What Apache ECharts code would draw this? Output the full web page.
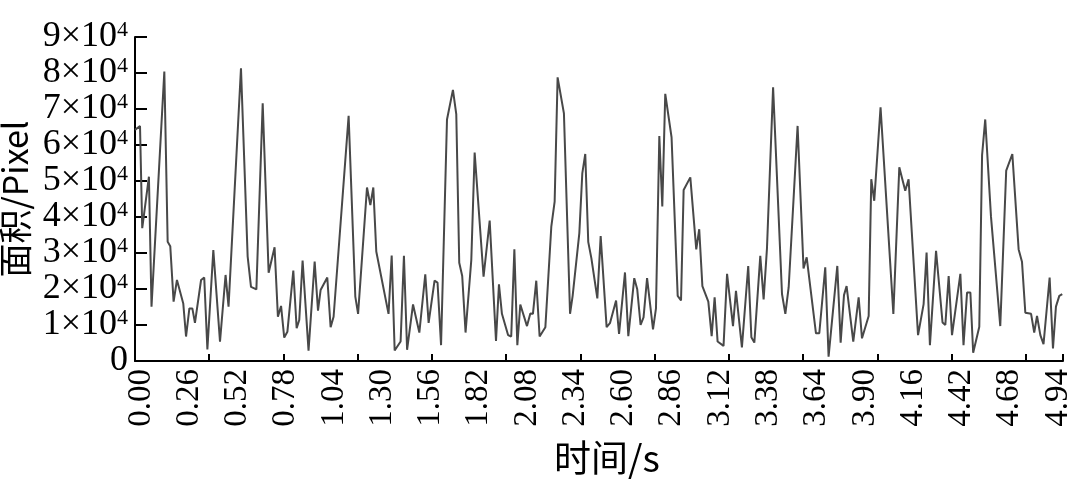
<!DOCTYPE html>
<html><head><meta charset="utf-8">
<script src="https://cdn.jsdelivr.net/npm/echarts@6/dist/echarts.min.js"></script>
<style>html,body{margin:0;padding:0;background:#fff}#c{width:1080px;height:479px}</style>
</head><body><div id="c"></div>
<script>
// time (s) of each vertex of the traced curve
const times = [
0.000,0.027,0.039,0.075,0.089,0.158,0.176,0.190,0.208,0.226,0.260,0.275,0.293,0.309,0.323,0.356,0.373,0.390,0.422,0.458,0.488,0.504,0.571,0.607,0.625,0.654,0.688,
0.720,0.752,0.770,0.787,0.804,0.821,0.853,0.871,0.885,0.903,0.935,0.968,0.986,1.000,1.036,1.054,1.070,1.151,1.187,1.202,1.250,1.268,1.284,1.300,1.366,1.383,1.399,1.431,1.449,
1.466,1.498,1.532,1.564,1.582,1.614,1.630,1.649,1.681,1.713,1.731,1.747,1.763,1.781,1.812,1.830,1.878,1.911,1.945,1.961,1.977,2.010,2.027,2.044,2.060,2.076,2.112,2.130,2.144,2.162,2.180,
2.211,2.243,2.261,2.277,2.311,2.344,2.358,2.394,2.410,2.426,2.442,2.459,2.491,2.509,2.541,2.559,2.592,2.608,2.640,2.658,2.690,2.706,2.724,2.740,2.759,2.791,2.807,2.825,2.841,2.857,2.891,
2.924,2.942,2.956,2.992,3.024,3.040,3.057,3.089,3.107,3.123,3.139,3.171,3.190,3.222,3.238,3.270,3.304,3.321,3.337,3.369,3.387,3.405,3.438,3.486,3.504,3.522,3.570,3.602,3.619,
3.669,3.687,3.719,3.737,3.784,3.802,3.820,3.834,3.870,3.899,3.917,3.953,3.967,3.983,4.017,4.086,4.118,4.150,4.168,4.219,4.249,4.265,4.283,4.316,4.351,4.366,
4.384,4.402,4.447,4.464,4.483,4.501,4.516,4.549,4.564,4.581,4.612,4.662,4.694,4.727,4.761,4.779,4.797,4.828,4.845,4.860,4.878,4.895,4.928,4.946,4.962,4.980,4.996];
// area in units of 10^4 pixel
const areas = [
6.42,6.53,3.69,5.12,1.51,8.04,3.31,3.19,1.65,2.25,1.60,0.68,1.46,1.46,1.06,2.25,2.32,0.32,3.08,0.54,2.39,1.51,8.13,2.90,2.06,1.99,7.16,
2.45,3.16,1.23,1.53,0.65,0.81,2.51,0.91,1.14,2.79,0.29,2.76,1.40,1.97,2.32,0.94,1.23,6.81,1.79,1.31,4.82,4.33,4.82,3.04,1.31,2.93,0.29,0.54,2.92,
0.31,1.57,0.79,2.41,1.06,2.23,2.18,0.44,6.71,7.53,6.86,2.73,2.36,0.79,2.81,5.79,2.34,3.90,0.56,2.13,1.31,0.72,0.68,3.10,0.44,1.57,0.97,1.32,1.31,2.23,0.68,
0.94,3.73,4.43,7.88,6.88,1.31,1.81,3.55,5.21,5.75,3.31,2.85,1.74,3.47,0.94,1.05,1.68,0.75,2.46,0.69,2.30,1.99,1.00,1.21,2.30,0.88,1.46,6.25,4.29,7.42,6.21,
1.81,1.68,4.75,5.10,3.10,3.66,2.08,1.65,0.69,1.77,0.54,0.42,2.42,0.97,1.95,0.38,2.64,0.66,0.51,2.92,1.71,3.13,7.60,1.86,1.31,2.05,6.53,2.57,2.88,
0.77,0.77,2.60,0.12,2.64,0.51,1.83,2.08,0.54,1.77,0.63,1.25,5.05,4.45,7.05,1.31,5.38,4.73,5.05,0.72,1.58,3.01,0.44,3.06,1.07,1.00,
2.36,0.72,2.42,0.44,1.90,1.90,0.23,0.95,5.72,6.71,4.01,0.97,5.29,5.75,3.10,2.76,1.34,1.31,0.79,1.25,0.72,0.47,2.32,0.35,1.51,1.81,1.86];

const xMin = 0, xMax = 5.0;
const labelStep = 0.26;   // spacing of x tick labels
const tickStep = 0.4;     // spacing of x tick marks
const yMax = 9, yStep = 1; // y axis in units of 10^4

const serif = '"Liberation Serif","Times New Roman",serif';
const cjk = '"Noto Sans CJK SC","Liberation Serif",serif';

const chart = echarts.init(document.getElementById('c'), null, {renderer: 'canvas'});
chart.setOption({
  animation: false,
  backgroundColor: '#fff',
  grid: {left: 135, right: 17, top: 37, bottom: 118, containLabel: false, outerBoundsMode: 'none'},
  xAxis: [{
    type: 'value', min: xMin, max: xMax, interval: tickStep,
    axisLine: {show: true, lineStyle: {color: '#000', width: 2}},
    axisTick: {show: true, inside: true, length: 7, lineStyle: {color: '#000', width: 2}},
    axisLabel: {show: false},
    splitLine: {show: false}
  }, {
    type: 'value', min: xMin, max: xMax, interval: labelStep, position: 'bottom',
    axisLine: {show: false}, axisTick: {show: false}, splitLine: {show: false},
    axisLabel: {show: true, rotate: 90, margin: 8, showMaxLabel: false, showMinLabel: true,
      fontFamily: serif, fontSize: 33, color: '#000', verticalAlign: 'top', lineHeight: 12,
      formatter: v => v.toFixed(2)},
    name: '时间/s', nameLocation: 'middle', nameGap: 78,
    nameTextStyle: {fontFamily: cjk, fontSize: 37, color: '#000', padding: [0, 0, 0, 16]}
  }],
  yAxis: {
    type: 'value', min: 0, max: yMax, interval: yStep,
    axisLine: {show: true, lineStyle: {color: '#000', width: 2}},
    axisTick: {show: true, inside: true, length: 12, lineStyle: {color: '#000', width: 2}},
    splitLine: {show: false},
    axisLabel: {margin: 7, color: '#000',
      formatter: v => v === 0 ? '{a|0}' : '{a|' + Math.round(v) + '×10}{s|4}',
      rich: {
        a: {fontFamily: serif, fontSize: 36, color: '#000', lineHeight: 36},
        s: {fontFamily: serif, fontSize: 22, color: '#000', verticalAlign: 'top', lineHeight: 36, padding: [0, 0, 12, 0]}
      }},
    name: '面积/Pixel', nameLocation: 'middle', nameGap: 97, nameRotate: 90,
    nameTextStyle: {fontFamily: cjk, fontSize: 34, color: '#000'}
  },
  series: [{
    type: 'line', xAxisIndex: 0, yAxisIndex: 0,
    data: times.map((t, i) => [t, areas[i]]),
    showSymbol: false, symbol: 'none',
    lineStyle: {color: '#484848', width: 2}
  }]
});
</script></body></html>
